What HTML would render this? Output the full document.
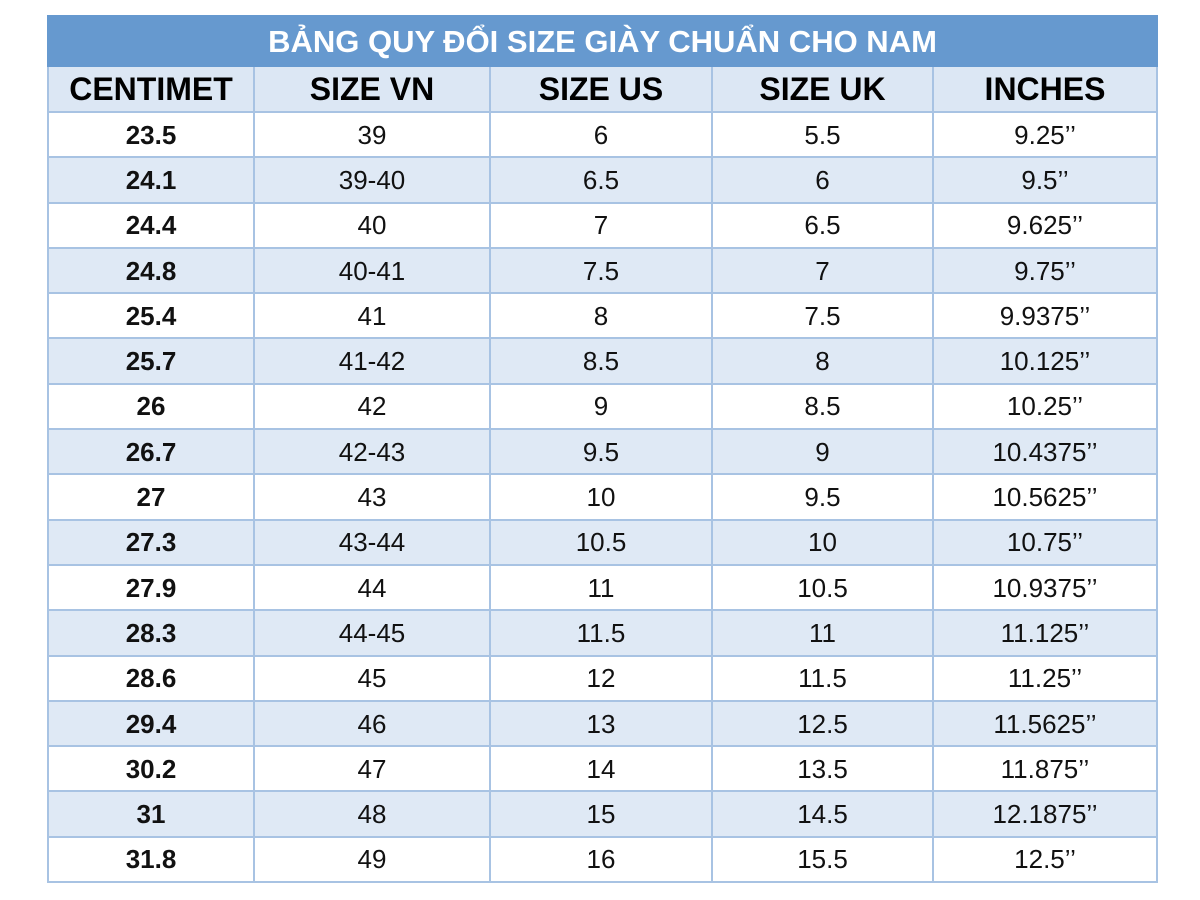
<!DOCTYPE html>
<html><head><meta charset="utf-8"><style>
body{margin:0;background:#fff;width:1200px;height:900px;overflow:hidden;font-family:"Liberation Sans","DejaVu Sans",sans-serif}
table{position:absolute;left:47px;top:15px;width:1109px;border-collapse:collapse;table-layout:fixed}
td{border:2px solid #a8c3e3;text-align:center;padding:0;font-size:26px;color:#111;height:43.3px;line-height:1}
tr.t td{background:#6699cf;color:#fff;font-weight:bold;font-size:31px;height:48px;border-color:#6699cf}
tr.h td{background:#dce7f4;font-weight:bold;font-size:32px;height:44px;color:#000}
tr.a td{background:#dfe9f5}
td:first-child{font-weight:bold}
</style></head><body>
<table>
<colgroup><col style="width:206px"><col style="width:236px"><col style="width:222px"><col style="width:221px"><col style="width:224px"></colgroup>
<tr class="t"><td colspan="5">BẢNG QUY ĐỔI SIZE GIÀY CHUẨN CHO NAM</td></tr>
<tr class="h"><td>CENTIMET</td><td>SIZE VN</td><td>SIZE US</td><td>SIZE UK</td><td>INCHES</td></tr>
<tr><td>23.5</td><td>39</td><td>6</td><td>5.5</td><td>9.25’’</td></tr>
<tr class="a"><td>24.1</td><td>39-40</td><td>6.5</td><td>6</td><td>9.5’’</td></tr>
<tr><td>24.4</td><td>40</td><td>7</td><td>6.5</td><td>9.625’’</td></tr>
<tr class="a"><td>24.8</td><td>40-41</td><td>7.5</td><td>7</td><td>9.75’’</td></tr>
<tr><td>25.4</td><td>41</td><td>8</td><td>7.5</td><td>9.9375’’</td></tr>
<tr class="a"><td>25.7</td><td>41-42</td><td>8.5</td><td>8</td><td>10.125’’</td></tr>
<tr><td>26</td><td>42</td><td>9</td><td>8.5</td><td>10.25’’</td></tr>
<tr class="a"><td>26.7</td><td>42-43</td><td>9.5</td><td>9</td><td>10.4375’’</td></tr>
<tr><td>27</td><td>43</td><td>10</td><td>9.5</td><td>10.5625’’</td></tr>
<tr class="a"><td>27.3</td><td>43-44</td><td>10.5</td><td>10</td><td>10.75’’</td></tr>
<tr><td>27.9</td><td>44</td><td>11</td><td>10.5</td><td>10.9375’’</td></tr>
<tr class="a"><td>28.3</td><td>44-45</td><td>11.5</td><td>11</td><td>11.125’’</td></tr>
<tr><td>28.6</td><td>45</td><td>12</td><td>11.5</td><td>11.25’’</td></tr>
<tr class="a"><td>29.4</td><td>46</td><td>13</td><td>12.5</td><td>11.5625’’</td></tr>
<tr><td>30.2</td><td>47</td><td>14</td><td>13.5</td><td>11.875’’</td></tr>
<tr class="a"><td>31</td><td>48</td><td>15</td><td>14.5</td><td>12.1875’’</td></tr>
<tr><td>31.8</td><td>49</td><td>16</td><td>15.5</td><td>12.5’’</td></tr>
</table>
</body></html>
